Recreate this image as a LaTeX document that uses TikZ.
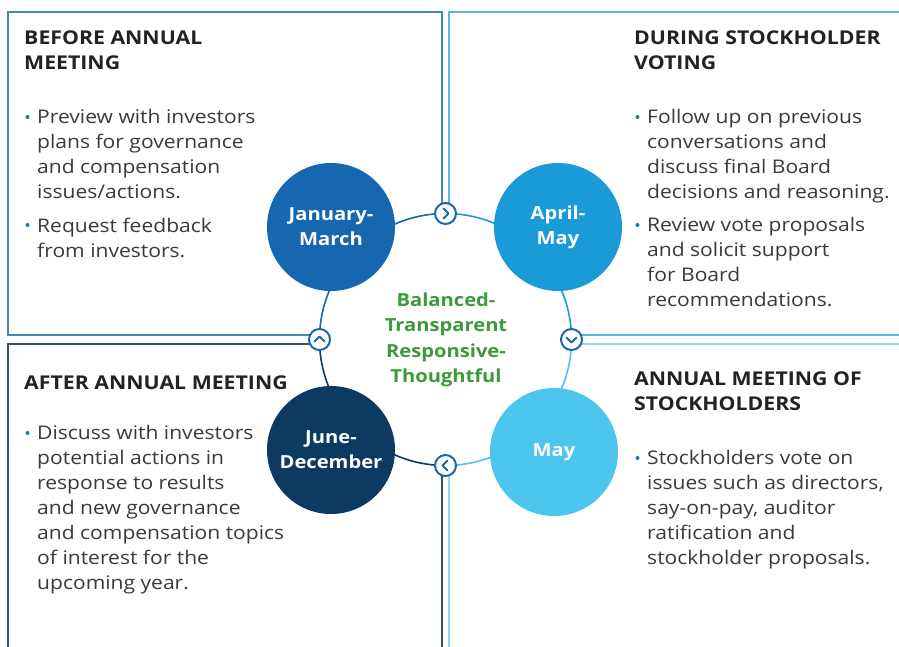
\documentclass[tikz,border=0pt]{standalone}
\usepackage{fontspec}
\setmainfont{Open Sans}[FakeStretch=1.12]
\definecolor{cJan}{HTML}{1666B0}
\definecolor{cApr}{HTML}{1A9BD7}
\definecolor{cMay}{HTML}{4CC6EE}
\definecolor{cJun}{HTML}{0D3A62}
\definecolor{lnTL}{HTML}{4A89AE}
\definecolor{lnTR}{HTML}{5AB8DF}
\definecolor{lnBR}{HTML}{8FD6EE}
\definecolor{lnBL}{HTML}{34526A}
\definecolor{chevc}{HTML}{1B68A8}
\definecolor{gtext}{HTML}{3C9A3A}
\definecolor{htext}{HTML}{222222}
\definecolor{btext}{HTML}{3A3A3A}
\definecolor{bullc}{HTML}{1A75BB}
\tikzset{
  heading/.style={anchor=north west, inner sep=0pt, align=left, text=htext,
    font=\fontsize{19}{25}\selectfont\bfseries, execute at begin node=\strut},
  body/.style={anchor=north west, inner sep=0pt, align=left, text=btext,
    font=\fontsize{18.8}{25}\selectfont, execute at begin node=\strut},
  month/.style={circle, minimum size=128pt, inner sep=0pt, text=white, align=center,
    font=\fontsize{18}{25}\selectfont\bfseries},
  chev/.style={circle, minimum size=21pt, inner sep=0pt, fill=white, draw=chevc, line width=2pt},
  chevline/.style={draw=chevc, line width=2pt, line cap=round, line join=round},
  panel/.style={line width=1.6pt},
  ring/.style={line width=1.6pt},
  bul/.style={fill=bullc}
}
\begin{document}
\begin{tikzpicture}[x=1pt,y=-1pt]
\useasboundingbox (0,0) rectangle (899,646);
\fill[white] (0,0) rectangle (899,646);
\coordinate (C) at (445.5,339.5);
\coordinate (pT) at (445.5,213.5);
\coordinate (pR) at (571.5,339.5);
\coordinate (pB) at (445.5,465.5);
\coordinate (pL) at (319.5,339.5);
% panel borders
\coordinate (tl1) at (442,12); \coordinate (tl2) at (8,12); \coordinate (tl3) at (8,335);
\draw[panel,lnTL] (442,213.5) -- (tl1) -- (tl2) -- (tl3) -- (319.5,335);
\draw[panel,lnTR] (449,213.5) -- (449,12) -- (905,12);
\draw[panel,lnTR] (571.5,335) -- (905,335);
\draw[panel,lnBR] (571.5,344) -- (905,344);
\draw[panel,lnBR] (449,465.5) -- (449,652);
\draw[panel,lnBL] (319.5,344) -- (8,344) -- (8,652);
\draw[panel,lnBL] (442,465.5) -- (442,652);
% ring
\draw[ring,cJan] (pL) arc[start angle=180, end angle=270, radius=126];
\draw[ring,cApr] (pT) arc[start angle=270, end angle=360, radius=126];
\draw[ring,cMay] (pR) arc[start angle=0, end angle=90, radius=126];
\draw[ring,cJun] (pB) arc[start angle=90, end angle=180, radius=126];
% month circles
\node[month, fill=cJan] (jan) at (331,227) {January-\\March};
\node[month, fill=cApr] (apr) at (558,227) {April-\\May};
\node[month, fill=cMay] (may) at (554,452) {May};
\node[month, fill=cJun] (jun) at (331,450) {June-\\December};
% chevrons
\node[chev] (cT) at (pT) {};
\draw[chevline] ([shift={(-2,-5)}]cT.center) -- ([shift={(3,0)}]cT.center) -- ([shift={(-2,5)}]cT.center);
\node[chev] (cR) at (pR) {};
\draw[chevline] ([shift={(-5,-2)}]cR.center) -- ([shift={(0,3)}]cR.center) -- ([shift={(5,-2)}]cR.center);
\node[chev] (cB) at (pB) {};
\draw[chevline] ([shift={(2,-5)}]cB.center) -- ([shift={(-3,0)}]cB.center) -- ([shift={(2,5)}]cB.center);
\node[chev] (cL) at (pL) {};
\draw[chevline] ([shift={(-5,2)}]cL.center) -- ([shift={(0,-3)}]cL.center) -- ([shift={(5,2)}]cL.center);
% centre text
\node[align=center, text=gtext, font=\fontsize{18}{25.5}\selectfont\bfseries] (mid) at (446,340)
  {Balanced-\\Transparent\\Responsive-\\Thoughtful};
% top-left
\node[heading] (h1) at (24,30.5) {BEFORE ANNUAL\\MEETING};
\fill[bul] (27.5,117) circle (2pt);
\node[body] (b11) at (37,109.5) {Preview with investors\\plans for governance\\and compensation\\issues/actions.};
\fill[bul] (27.5,225) circle (2pt);
\node[body] (b12) at (37,217.5) {Request feedback\\from investors.};
% top-right
\node[heading] (h2) at (634,30.5) {DURING STOCKHOLDER\\VOTING};
\fill[bul] (637.5,117) circle (2pt);
\node[body] (b21) at (647,109.5) {Follow up on previous\\conversations and\\discuss final Board\\decisions and reasoning.};
\fill[bul] (637.5,225) circle (2pt);
\node[body] (b22) at (647,217.5) {Review vote proposals\\and solicit support\\for Board\\recommendations.};
% bottom-left
\node[heading] (h3) at (24,371.5) {AFTER ANNUAL MEETING};
\fill[bul] (27.5,433) circle (2pt);
\node[body] (b31) at (37,425.5) {Discuss with investors\\potential actions in\\response to results\\and new governance\\and compensation topics\\of interest for the\\upcoming year.};
% bottom-right
\node[heading] (h4) at (634,372) {ANNUAL MEETING OF\\STOCKHOLDERS};
\fill[bul] (637.5,458) circle (2pt);
\node[body] (b41) at (647,450.5) {Stockholders vote on\\issues such as directors,\\say-on-pay, auditor\\ratification and\\stockholder proposals.};
\end{tikzpicture}
\end{document}
